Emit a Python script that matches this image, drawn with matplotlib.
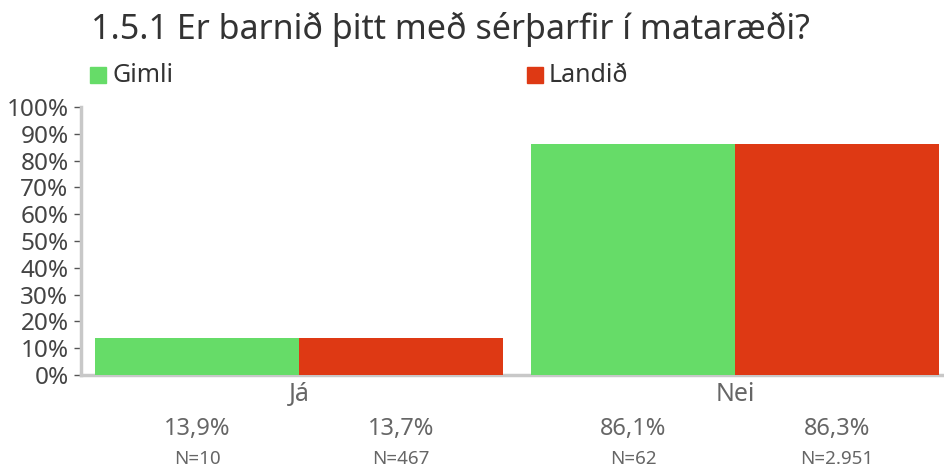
import matplotlib
matplotlib.use("Agg")
import matplotlib.pyplot as plt
from matplotlib.patches import Rectangle
import numpy as np

plt.rcParams['font.family'] = ['Noto Sans', 'DejaVu Sans']

# Survey answers and results per group
categories = ['Já', 'Nei']
series = ['Gimli', 'Landið']
values = {
    'Gimli': [13.9, 86.1],
    'Landið': [13.7, 86.3],
}
counts = {
    'Gimli': [10, 62],
    'Landið': [467, 2951],
}
colors = {'Gimli': '#66dc68', 'Landið': '#de3914'}

title = '1.5.1 Er barnið þitt með sérþarfir í mataræði?'


def fmt_pct(v):
    return f'{v:.1f}%'.replace('.', ',')


def fmt_n(n):
    return 'N=' + f'{n:,}'.replace(',', '.')


fig = plt.figure(figsize=(9.44, 4.70), dpi=100)
ax = fig.add_axes([81 / 944, 1 - 375 / 470, 872 / 944, 268 / 470])

x = np.arange(len(categories))
bar_w = 0.468
for i, name in enumerate(series):
    offs = (i - 0.5) * bar_w
    ax.bar(x + offs, values[name], width=bar_w, color=colors[name],
           zorder=3, linewidth=0)
    for xi, v, n in zip(x, values[name], counts[name]):
        ax.annotate(fmt_pct(v), xy=(xi + offs, 0), xycoords=('data', 'axes fraction'),
                    xytext=(0, -54), textcoords='offset pixels',
                    ha='center', va='center', fontsize=17, color='#666666')
        ax.annotate(fmt_n(n), xy=(xi + offs, 0), xycoords=('data', 'axes fraction'),
                    xytext=(0, -84), textcoords='offset pixels',
                    ha='center', va='center', fontsize=13.5, color='#666666')

ax.set_xlim(-0.5, len(categories) - 0.5)
ax.set_ylim(0, 100)
ax.set_yticks(np.arange(0, 101, 10))
ax.set_yticklabels([f'{t}%' for t in range(0, 101, 10)])
ax.set_xticks(x)
ax.set_xticklabels(categories)

ax.tick_params(axis='y', length=5, width=1, color='#555555', labelsize=17.5,
               labelcolor='#444444', pad=4)
ax.tick_params(axis='x', length=0, labelsize=18, labelcolor='#666666', pad=5)

for side in ('top', 'right'):
    ax.spines[side].set_visible(False)
for side in ('left', 'bottom'):
    ax.spines[side].set_color('#c8c8c8')
    ax.spines[side].set_linewidth(2.5)

# title and legend
fig.text(91 / 944, 1 - 29 / 470, title, fontsize=24.5, color='#333333',
         ha='left', va='center')
legend_x = [90, 527]
for lx, name in zip(legend_x, series):
    fig.add_artist(Rectangle((lx / 944, 1 - 83 / 470), 16 / 944, 16 / 470,
                             transform=fig.transFigure, color=colors[name]))
    fig.text((lx + 22) / 944, 1 - 75 / 470, name, fontsize=18, color='#333333',
             ha='left', va='center')

fig.savefig('out.png', dpi=100, facecolor='white')
